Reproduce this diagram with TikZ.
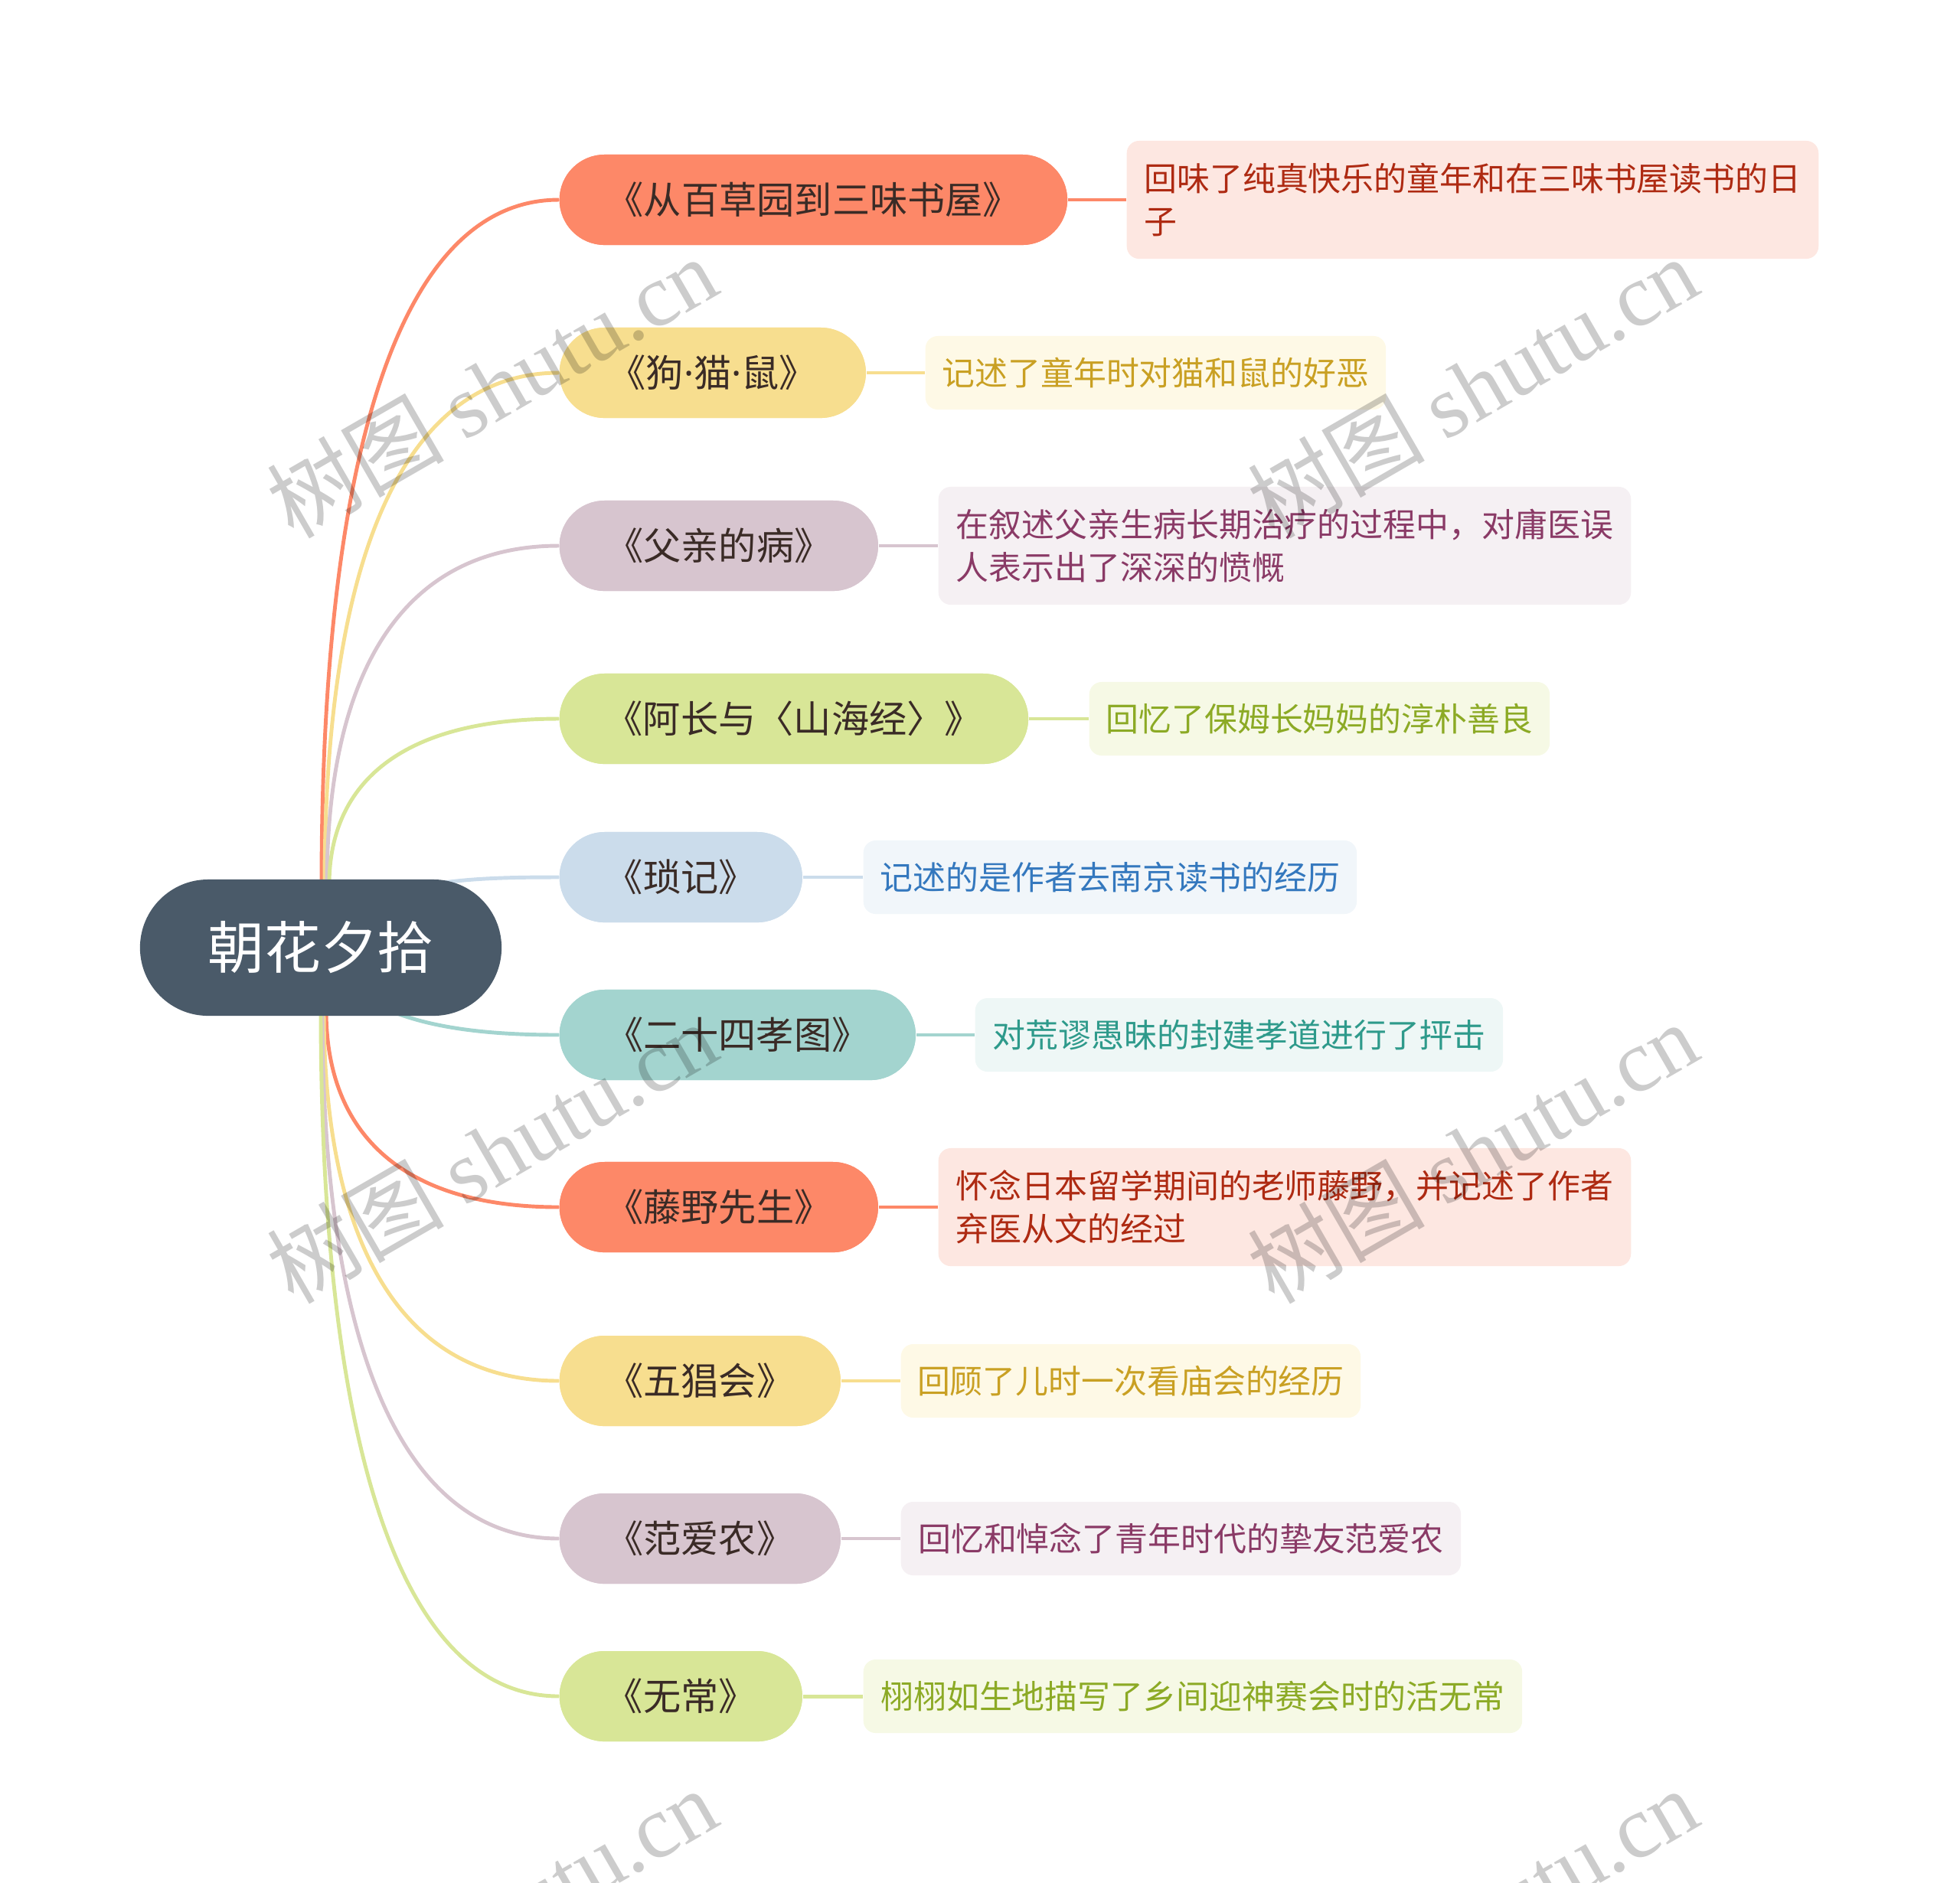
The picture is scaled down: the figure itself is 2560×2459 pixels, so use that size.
\documentclass[tikz,border=0pt]{standalone}
\usepackage{fontspec}
\newfontfamily\cjk{Noto Sans CJK SC}
\newfontfamily\latsans{Noto Sans}
\newfontfamily\wmlat{Liberation Serif}
\usetikzlibrary{calc}
\definecolor{rootc}{HTML}{4A5A69}
\definecolor{cCoral}{HTML}{FD8868}
\definecolor{cYel}{HTML}{F7DE8F}
\definecolor{cMauve}{HTML}{D7C5CF}
\definecolor{cGreen}{HTML}{D8E697}
\definecolor{cBlue}{HTML}{CBDCEB}
\definecolor{cTeal}{HTML}{A3D4CF}
\definecolor{lCoral}{HTML}{FDE7E1}
\definecolor{lYel}{HTML}{FEF9E6}
\definecolor{lMauve}{HTML}{F5F0F3}
\definecolor{lGreen}{HTML}{F6F9E5}
\definecolor{lBlue}{HTML}{F1F6FA}
\definecolor{lTeal}{HTML}{EEF7F6}
\definecolor{tCoral}{HTML}{AE2A12}
\definecolor{tYel}{HTML}{C9A023}
\definecolor{tMauve}{HTML}{8A3A66}
\definecolor{tGreen}{HTML}{8CAA25}
\definecolor{tBlue}{HTML}{3478BE}
\definecolor{tTeal}{HTML}{2E9A8B}
\definecolor{brtext}{HTML}{3A2B26}
\newcommand\mdot{{\latsans ·}}
\tikzset{
  conn/.style={line width=1.4pt},
  rootnode/.style={fill=rootc, rounded corners=0.89cm, minimum width=4.72cm,
    minimum height=1.78cm, inner sep=0pt, text=white,
    font=\cjk\fontsize{21pt}{21pt}\selectfont},
  branch/.style={anchor=west, rounded corners=0.59cm, minimum height=1.18cm,
    inner sep=0pt, text=brtext, font=\cjk\fontsize{14pt}{14pt}\selectfont},
  desc/.style={anchor=west, rounded corners=0.16cm, inner xsep=0.21cm,
    inner ysep=0pt, align=left, font=\cjk\fontsize{12.2pt}{15.8pt}\selectfont},
  wm/.style={rotate=30, text=black, text opacity=0.2, inner sep=0pt}
}
\newcommand\mmcurve[3]{\draw[conn,#1] (#2) .. controls ($(#2)!0.62!(#2|-#3.west)$) and ($(#2|-#3.west)!0.32!(#3.west)$) .. (#3.west);}
\begin{document}
\begin{tikzpicture}[x=0.01cm,y=-0.01cm]
\useasboundingbox (0,0) rectangle (2560,2459);

% branch nodes (placed first so connectors can refer to them)
\node[branch, fill=cCoral, minimum width=6.63cm] (b1) at (730,261) {《从百草园到三味书屋》};
\node[branch, fill=cYel, minimum width=4.00cm] (b2) at (730,487) {《狗\mdot 猫\mdot 鼠》};
\node[branch, fill=cMauve, minimum width=4.16cm] (b3) at (730,713) {《父亲的病》};
\node[branch, fill=cGreen, minimum width=6.12cm] (b4) at (730,939) {《阿长与〈山海经〉》};
\node[branch, fill=cBlue, minimum width=3.17cm] (b5) at (730,1146) {《琐记》};
\node[branch, fill=cTeal, minimum width=4.65cm] (b6) at (730,1352) {《二十四孝图》};
\node[branch, fill=cCoral, minimum width=4.16cm] (b7) at (730,1577) {《藤野先生》};
\node[branch, fill=cYel, minimum width=3.67cm] (b8) at (730,1804) {《五猖会》};
\node[branch, fill=cMauve, minimum width=3.67cm] (b9) at (730,2010) {《范爱农》};
\node[branch, fill=cGreen, minimum width=3.17cm] (b10) at (730,2216) {《无常》};

% description nodes
\node[desc, fill=lCoral, text=tCoral, minimum width=9.03cm, minimum height=1.54cm] (d1) at (1471,261) {回味了纯真快乐的童年和在三味书屋读书的日\\子};
\node[desc, fill=lYel, text=tYel, minimum width=6.01cm, minimum height=0.96cm] (d2) at (1208,487) {记述了童年时对猫和鼠的好恶};
\node[desc, fill=lMauve, text=tMauve, minimum width=9.04cm, minimum height=1.54cm] (d3) at (1225,713) {在叙述父亲生病长期治疗的过程中，对庸医误\\人表示出了深深的愤慨};
\node[desc, fill=lGreen, text=tGreen, minimum width=6.01cm, minimum height=0.96cm] (d4) at (1422,939) {回忆了保姆长妈妈的淳朴善良};
\node[desc, fill=lBlue, text=tBlue, minimum width=6.44cm, minimum height=0.96cm] (d5) at (1127,1146) {记述的是作者去南京读书的经历};
\node[desc, fill=lTeal, text=tTeal, minimum width=6.89cm, minimum height=0.96cm] (d6) at (1273,1352) {对荒谬愚昧的封建孝道进行了抨击};
\node[desc, fill=lCoral, text=tCoral, minimum width=9.04cm, minimum height=1.54cm] (d7) at (1225,1577) {怀念日本留学期间的老师藤野，并记述了作者\\弃医从文的经过};
\node[desc, fill=lYel, text=tYel, minimum width=6.00cm, minimum height=0.96cm] (d8) at (1176,1804) {回顾了儿时一次看庙会的经历};
\node[desc, fill=lMauve, text=tMauve, minimum width=7.31cm, minimum height=0.96cm] (d9) at (1176,2010) {回忆和悼念了青年时代的挚友范爱农};
\node[desc, fill=lGreen, text=tGreen, minimum width=8.60cm, minimum height=0.96cm] (d10) at (1127,2216) {栩栩如生地描写了乡间迎神赛会时的活无常};

% connector start points on the central topic
\coordinate (s1) at (420,1156);
\coordinate (s2) at (424,1156);
\coordinate (s3) at (427,1156);
\coordinate (s4) at (430,1156);
\coordinate (s7) at (426,1320);
\coordinate (s8) at (423,1320);
\coordinate (s9) at (421,1320);
\coordinate (s10) at (419,1320);
\coordinate (rc) at (419,1238);

% connectors root -> branches (root covers their starts)
\mmcurve{cCoral}{s1}{b1}
\mmcurve{cYel}{s2}{b2}
\mmcurve{cMauve}{s3}{b3}
\mmcurve{cGreen}{s4}{b4}
\draw[conn, cBlue] (rc) .. controls (470,1150) and (600,1146) .. (b5.west);
\draw[conn, cTeal] (rc) .. controls (460,1335) and (600,1352) .. (b6.west);
\mmcurve{cCoral}{s7}{b7}
\mmcurve{cYel}{s8}{b8}
\mmcurve{cMauve}{s9}{b9}
\mmcurve{cGreen}{s10}{b10}

% connectors branch -> description
\draw[conn, cCoral] (b1.east) -- (d1.west);
\draw[conn, cYel] (b2.east) -- (d2.west);
\draw[conn, cMauve] (b3.east) -- (d3.west);
\draw[conn, cGreen] (b4.east) -- (d4.west);
\draw[conn, cBlue] (b5.east) -- (d5.west);
\draw[conn, cTeal] (b6.east) -- (d6.west);
\draw[conn, cCoral] (b7.east) -- (d7.west);
\draw[conn, cYel] (b8.east) -- (d8.west);
\draw[conn, cMauve] (b9.east) -- (d9.west);
\draw[conn, cGreen] (b10.east) -- (d10.west);

% redraw branch nodes over connector ends
\node[branch, fill=cCoral, minimum width=6.63cm] at (730,261) {《从百草园到三味书屋》};
\node[branch, fill=cYel, minimum width=4.00cm] at (730,487) {《狗\mdot 猫\mdot 鼠》};
\node[branch, fill=cMauve, minimum width=4.16cm] at (730,713) {《父亲的病》};
\node[branch, fill=cGreen, minimum width=6.12cm] at (730,939) {《阿长与〈山海经〉》};
\node[branch, fill=cBlue, minimum width=3.17cm] at (730,1146) {《琐记》};
\node[branch, fill=cTeal, minimum width=4.65cm] at (730,1352) {《二十四孝图》};
\node[branch, fill=cCoral, minimum width=4.16cm] at (730,1577) {《藤野先生》};
\node[branch, fill=cYel, minimum width=3.67cm] at (730,1804) {《五猖会》};
\node[branch, fill=cMauve, minimum width=3.67cm] at (730,2010) {《范爱农》};
\node[branch, fill=cGreen, minimum width=3.17cm] at (730,2216) {《无常》};

% central topic
\node[rootnode] (root) at (rc) {朝花夕拾};

% watermarks
\foreach \wx/\wy [count=\i] in {642/505, 1923/505, 642/1505, 1923/1505, 642/2506, 1923/2506}{
  \node[wm] (wm\i) at (\wx,\wy) {\fontsize{33pt}{33pt}\selectfont\cjk 树图 \wmlat shutu.cn};
}
\end{tikzpicture}
\end{document}
